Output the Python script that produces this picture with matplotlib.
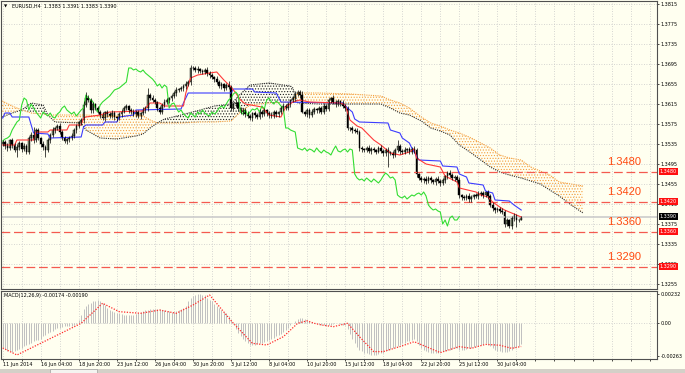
import numpy as np
import matplotlib
matplotlib.use('Agg')
import matplotlib.pyplot as plt
from matplotlib.patches import Rectangle

plt.rcParams['hatch.linewidth'] = 0.5

# ---- price data (EURUSD H4), one entry per bar ----
firstOpen = 1.3535
closes = [
    1.3539, 1.3531, 1.3527, 1.3543, 1.3533, 1.3523, 1.3529, 1.3537, 1.3525, 1.3531, 1.3519,
    1.3547, 1.3553, 1.3543, 1.3563, 1.3547, 1.3535, 1.3529, 1.3523,
    1.3543, 1.3553, 1.3563, 1.3567, 1.3571, 1.3559, 1.3547, 1.3541,
    1.3545, 1.3547, 1.3551, 1.3563, 1.3571, 1.3579, 1.3583,
    1.3613, 1.3627, 1.3623, 1.3603, 1.3615, 1.3607, 1.3599,
    1.3593, 1.3587, 1.3599, 1.3595, 1.3591, 1.3597, 1.3589,
    1.3587, 1.3595, 1.3599, 1.3607, 1.3611, 1.3603, 1.3599,
    1.3595, 1.3599, 1.3591, 1.3597, 1.3603, 1.3607,
    1.3633, 1.3627, 1.3623, 1.3619, 1.3607, 1.3599,
    1.3613, 1.3619, 1.3623, 1.3627,
    1.3631, 1.3637, 1.3643, 1.3645, 1.3647,
    1.3651, 1.3655, 1.3659, 1.3687,
    1.3687, 1.3683, 1.3685, 1.3681, 1.3679, 1.3683, 1.3677,
    1.3673, 1.3669, 1.3665,
    1.3659, 1.3651, 1.3655, 1.3647, 1.3653, 1.3649,
    1.3607,
    1.3615, 1.3617, 1.3607, 1.3599, 1.3603,
    1.3595, 1.3591, 1.3587, 1.3597, 1.3593, 1.3589, 1.3599, 1.3595, 1.3603,
    1.3597, 1.3593, 1.3591, 1.3599,
    1.3595, 1.3599, 1.3607, 1.3611,
    1.3607, 1.3615, 1.3623, 1.3627,
    1.3635, 1.3639, 1.3633,
    1.3599,
    1.3595, 1.3603, 1.3593, 1.3599, 1.3605,
    1.3603, 1.3607, 1.3599, 1.3611, 1.3605,
    1.3623, 1.3627,
    1.3619, 1.3615, 1.3621, 1.3617,
    1.3611, 1.3607,
    1.3567,
    1.3567, 1.3563, 1.3561, 1.3559,
    1.3527,
    1.3525, 1.3523, 1.3527, 1.3521, 1.3525,
    1.3523, 1.3519, 1.3527, 1.3521, 1.3517, 1.3523,
    1.3519,
    1.3517, 1.3513, 1.3523, 1.3531,
    1.3521, 1.3519, 1.3523, 1.3525, 1.3519,
    1.3525, 1.3523,
    1.3475,
    1.3467, 1.3463, 1.3465, 1.3461, 1.3467, 1.3463, 1.3459, 1.3465, 1.3461, 1.3457,
    1.3463, 1.3471, 1.3477, 1.3473, 1.3467, 1.3469, 1.3463,
    1.3433, 1.3429,
    1.3427, 1.3431, 1.3425, 1.3429, 1.3433, 1.3431,
    1.3435, 1.3437, 1.3433, 1.3439, 1.3431,
    1.3413, 1.3407, 1.3403, 1.3405,
    1.3401, 1.3399,
    1.3375, 1.3383, 1.3371,
    1.3387, 1.3391, 1.3383, 1.3383, 1.3390,
]

# wick extents beyond the body, in pips
upWick = [
    5, 4, 6, 3, 5, 4, 7, 5, 3, 6, 4, 5, 6, 16, 4, 5, 3, 6, 4, 5,
    4, 6, 3, 5, 7, 4, 5, 3, 4, 6, 5, 4, 3, 5, 8, 12, 6, 4, 5, 3,
    5, 4, 6, 3, 5, 4, 6, 5, 3, 4, 6, 5, 4, 3, 5, 6, 4, 5, 3, 6,
    5, 14, 4, 6, 5, 3, 4, 5, 6, 4, 3, 5, 4, 6, 3, 5, 4, 6, 5, 6,
    4, 5, 6, 3, 4, 5, 6, 4, 5, 3, 6, 4, 5, 3, 4, 8, 5, 4, 6, 5,
    3, 5, 4, 6, 5, 3, 4, 5, 6, 4, 5, 3, 4, 6, 5, 4, 3, 5, 6, 4,
    5, 3, 4, 6, 5, 4, 8, 3, 5, 4, 6, 5, 3, 4, 5, 6, 4, 5, 3, 6,
    4, 5, 3, 6, 4, 5, 3, 5, 4, 6, 5, 4, 3, 5, 6, 4, 5, 3, 4, 6,
    5, 4, 6, 3, 5, 4, 12, 5, 4, 6, 3, 5, 4, 6, 5, 3, 4, 5, 6, 4,
    5, 3, 4, 6, 5, 4, 3, 5, 6, 4, 5, 4, 6, 3, 5, 4, 6, 5, 3, 4,
    6, 5, 4, 3, 5, 4, 6, 3, 5, 4, 6, 5, 4, 3, 5, 6, 4, 3, 1,
]
dnWick = [
    4, 6, 5, 3, 5, 4, 14, 5, 6, 3, 5, 4, 6, 5, 3, 4, 5, 6, 14, 4,
    5, 3, 6, 4, 5, 3, 4, 6, 5, 4, 3, 5, 4, 6, 5, 3, 4, 6, 5, 4,
    3, 5, 4, 6, 5, 4, 3, 5, 6, 4, 5, 3, 4, 6, 5, 4, 6, 3, 5, 4,
    6, 5, 4, 3, 5, 6, 4, 5, 3, 4, 6, 5, 4, 5, 3, 4, 6, 5, 4, 5,
    3, 4, 6, 5, 4, 3, 5, 6, 4, 5, 3, 4, 6, 5, 4, 3, 5, 4, 6, 5,
    4, 6, 5, 3, 4, 5, 6, 4, 3, 5, 4, 6, 5, 3, 4, 5, 6, 4, 5, 3,
    4, 5, 3, 6, 4, 5, 3, 4, 6, 5, 3, 4, 5, 6, 4, 5, 3, 4, 6, 5,
    5, 4, 6, 3, 5, 4, 6, 5, 3, 4, 6, 5, 4, 3, 5, 6, 4, 5, 3, 4,
    5, 6, 30, 4, 5, 3, 4, 6, 5, 4, 3, 5, 4, 6, 5, 3, 4, 5, 6, 4,
    5, 4, 6, 3, 5, 4, 5, 6, 3, 4, 5, 4, 6, 5, 3, 4, 5, 6, 4, 3,
    5, 4, 6, 3, 5, 4, 5, 6, 3, 4, 5, 6, 4, 4, 5, 6, 14, 4, 0,
]

# ---- Ichimoku lines (bar index, price in pips above 1.3000) ----
tenkanBars = [0, 5, 6, 13, 14, 19, 20, 27, 28, 33, 34, 35, 41, 45, 59, 62, 66, 68, 76, 77,
              79, 82, 87, 90, 93, 96, 98, 100, 102, 109, 112, 117, 119, 122, 125, 129, 142, 144, 146, 149,
              151, 156, 159, 163, 167, 171, 173, 174, 178, 184, 186, 191, 192, 199, 201, 204, 206, 209, 211, 214,
              218]
tenkanPips = [533, 533, 543, 543, 559, 559, 563, 563, 573, 573, 587, 589, 593, 599, 601, 617, 617, 611, 611, 637,
              667, 673, 677, 679, 663, 649, 637, 623, 615, 609, 593, 589, 609, 619, 623, 619, 617, 613, 583, 571,
              567, 543, 533, 517, 513, 519, 525, 507, 495, 489, 471, 459, 447, 439, 433, 429, 419, 409, 403, 397,
              389]
kijunBars = [0, 1, 3, 4, 11, 13, 19, 20, 33, 34, 35, 42, 43, 48, 49, 55, 56, 75, 76, 78,
             96, 97, 105, 106, 115, 117, 143, 145, 147, 148, 150, 162, 163, 167, 168, 171, 172, 174, 175, 184,
             185, 191, 192, 195, 196, 202, 203, 206, 207, 213, 215, 218]
kijunPips = [587, 597, 597, 589, 589, 557, 555, 547, 549, 569, 573, 573, 579, 579, 589, 593, 603, 605, 617, 637,
             637, 645, 645, 639, 637, 619, 617, 607, 599, 585, 579, 577, 563, 557, 547, 537, 527, 511, 503, 501,
             491, 489, 475, 469, 457, 453, 441, 437, 423, 421, 413, 403]
spanBars = [-1, 4, 8, 12, 17, 19, 22, 33, 35, 41, 48, 56, 59, 62, 65, 68, 75, 83, 89, 96,
            100, 104, 112, 121, 122, 124, 133, 146, 159, 163, 167, 171, 176, 180, 184, 188, 192, 197, 201, 205,
            209, 213, 218, 222, 226, 230, 234, 239, 244]
spanAPips = [587, 597, 603, 617, 613, 593, 579, 577, 563, 547, 545, 551, 555, 567, 577, 585, 593, 603, 611, 615,
             635, 653, 657, 651, 647, 617, 615, 615, 615, 607, 597, 593, 581, 567, 561, 553, 533, 517, 503, 489,
             479, 473, 467, 461, 455, 443, 431, 413, 397]
spanBPips = [623, 611, 603, 597, 595, 593, 593, 593, 593, 591, 591, 593, 591, 583, 577, 577, 577, 579, 579, 581,
             599, 613, 617, 619, 619, 637, 637, 635, 631, 623, 617, 607, 589, 577, 571, 563, 557, 547, 537, 527,
             513, 507, 503, 489, 481, 473, 459, 455, 451]

# ---- MACD (12,26,9), values in units of 1e-5 ----
macdMain = [
    -195, -210, -225, -230, -232, -228,
    -220, -210, -200, -190, -180, -170,
    -160, -150, -140, -135, -130,
    -110, -95, -85, -75, -65,
    -50, -45, -40, -35, -30, -30, -25, -25, -20, -10,
    20, 60, 110, 130, 150,
    160, 170, 175, 180, 175,
    160, 140, 120, 100,
    90, 85, 80, 75, 70, 65, 62, 60, 62, 65, 70, 75, 85,
    95, 100, 105, 108, 110, 112, 110, 108, 105, 100, 95,
    90, 85, 88, 92, 100, 110, 120, 130,
    170, 200, 215, 225, 230, 228, 225, 220,
    200, 185, 170, 150, 130, 115, 100, 85, 75,
    50, 20, -10,
    -50, -85, -110, -130, -150, -165, -175,
    -178, -175, -170, -165, -160, -155,
    -150, -140, -130, -120, -110, -100, -90, -75,
    -60, -40, -20, 0, 15, 30, 40, 37,
    30, 20, 10, 5, 0, -5,
    -10, -15, -20, -25, -20, -15, -10, -5, -5, -10, -15, -20,
    -50, -90, -130, -165, -195, -215, -230,
    -240, -245, -250, -255, -258, -255, -250, -245, -240,
    -230, -220, -210, -205, -195, -185, -175, -165, -160, -150, -145,
    -140, -130, -150,
    -180, -200, -215, -225, -235, -240, -245, -243, -240, -235,
    -230, -225, -220, -215, -210, -205, -200,
    -215, -220, -215, -210, -205, -200, -195, -190, -185, -175, -170, -165,
    -175, -190, -205, -215, -225, -230, -232, -235, -233, -225,
    -215, -205, -195, -185, -174,
]
signalBars = [-1, 6, 33, 42, 49, 58, 66, 73, 80, 87, 97, 105, 111, 118, 124, 128, 131, 134, 139, 145,
              150, 156, 160, 167, 173, 178, 184, 192, 197, 203, 209, 214, 218]
signalVals = [-192, -258, -5, 155, 88, 75, 101, 75, 141, 221, -5, -165, -178, -112, -5, 15, -5, -18, -32, -5,
              -112, -231, -231, -191, -152, -191, -239, -191, -205, -173, -180, -205, -190]

levels = [1.3480, 1.3420, 1.3360, 1.3290]
lastPrice = 1.3390
dateLabels = ["11 Jun 2014", "16 Jun 04:00", "18 Jun 20:00", "23 Jun 12:00", "26 Jun 04:00",
              "30 Jun 20:00", "3 Jul 12:00", "8 Jul 04:00", "10 Jul 20:00", "15 Jul 12:00",
              "18 Jul 04:00", "22 Jul 20:00", "25 Jul 12:00", "30 Jul 04:00"]

assert len(closes) == len(upWick) == len(dnWick) == len(macdMain)

BG = '#FFFFF0'
GRID = '#C8C8C8'
SMALL = 3.5


def pips(values):
    return 1.3 + np.array(values) / 10000.0


def main():
    n = len(closes)
    bars = np.arange(n)
    c = np.array(closes)
    o = np.concatenate([[firstOpen], c[:-1]])
    hi = np.maximum(o, c) + np.array(upWick) / 10000.0
    lo = np.minimum(o, c) - np.array(dnWick) / 10000.0

    fig = plt.figure(figsize=(6.85, 3.73), dpi=100, facecolor=BG)
    axMain = fig.add_axes([1 / 685, 1 - 289 / 373, 656 / 685, 288 / 373], facecolor=BG)
    axMacd = fig.add_axes([1 / 685, 1 - 359 / 373, 656 / 685, 68 / 373], facecolor=BG)

    gridBars = np.arange(0, 276, 8)
    for ax in (axMain, axMacd):
        ax.set_xlim(-0.7, 275.1)
        ax.set_xticks(gridBars)
        ax.grid(True, axis='x', color=GRID, linestyle=(0, (1, 2)), linewidth=0.6)
        for s in ax.spines.values():
            s.set_color('#505050')
            s.set_linewidth(0.8)
        ax.yaxis.tick_right()
        ax.tick_params(axis='y', labelsize=SMALL, length=1.5, pad=1, width=0.5)
        ax.set_axisbelow(True)

    # main price panel
    axMain.set_ylim(1.3245, 1.3821)
    priceTicks = np.arange(1.3255, 1.3816, 0.0040)
    axMain.set_yticks(priceTicks)
    axMain.set_yticklabels(['%.4f' % p for p in priceTicks])
    axMain.grid(True, axis='y', color=GRID, linestyle=(0, (1, 2)), linewidth=0.6)
    axMain.tick_params(axis='x', length=0, labelbottom=False)

    # Ichimoku cloud
    sa = pips(spanAPips)
    sb = pips(spanBPips)
    axMain.fill_between(spanBars, sa, sb, where=sb >= sa, interpolate=True,
                        facecolor='none', edgecolor='#F5A040', hatch='......', linewidth=0)
    axMain.fill_between(spanBars, sa, sb, where=sa > sb, interpolate=True,
                        facecolor='none', edgecolor='#202020', hatch='......', linewidth=0)
    axMain.plot(spanBars, sb, color='#F5A040', linestyle=(0, (1, 1)), linewidth=0.8)
    axMain.plot(spanBars, sa, color='#303030', linestyle=(0, (1, 1)), linewidth=0.8)

    # level lines
    axMain.axhline(lastPrice, color='#C8C8C8', linewidth=1.1)
    for lv in levels:
        axMain.axhline(lv, color='#F45A50', linestyle=(0, (7, 3)), linewidth=0.9)
        axMain.annotate('%.4f' % lv, xy=(254, lv), xytext=(0, 7), textcoords='offset points',
                        color='#FF4A10', fontsize=8, family='Liberation Sans', va='center', ha='left')

    # lines
    axMain.plot(kijunBars, pips(kijunPips), color='#3C3CFF', linewidth=0.8)
    axMain.plot(tenkanBars, pips(tenkanPips), color='#FF3A3A', linewidth=0.8)
    axMain.plot(bars[:-26], c[26:], color='#33DD33', linewidth=0.8)

    # candles
    axMain.vlines(bars, lo, hi, color='black', linewidth=0.5)
    up = c >= o
    axMain.bar(bars[up], (c - o)[up], bottom=o[up], width=0.75, color='#7D8B6E',
               edgecolor='black', linewidth=0.3)
    axMain.bar(bars[~up], (c - o)[~up], bottom=o[~up], width=0.75, color='black',
               edgecolor='black', linewidth=0.3)

    # right-side price boxes (they cover the axis labels just beneath them)
    yTrans = axMain.get_yaxis_transform()
    for lv in levels:
        axMain.text(1.004, lv, '%.4f' % lv, transform=yTrans, fontsize=SMALL, color='white',
                    va='center', ha='left', clip_on=False, zorder=10,
                    bbox=dict(boxstyle='square,pad=0.2', fc='#FF1010', ec='none'))
    axMain.text(1.004, lastPrice, '%.4f' % lastPrice, transform=yTrans, fontsize=SMALL, color='white',
                va='center', ha='left', clip_on=False, zorder=10,
                bbox=dict(boxstyle='square,pad=0.2', fc='black', ec='none'))

    axMain.text(0.004, 1 - 5.5 / 288, '\u25bc', transform=axMain.transAxes, fontsize=3,
                va='center', ha='left')
    axMain.text(0.017, 1 - 5.5 / 288, 'EURUSD,H4  1.3383 1.3391 1.3383 1.3390',
                transform=axMain.transAxes, fontsize=SMALL, va='center', ha='left')

    # MACD panel
    axMacd.set_ylim(-290, 253)
    axMacd.set_yticks([232, 0, -263])
    axMacd.set_yticklabels(['0.00232', '0.00', '-0.00263'])
    axMacd.axhline(0, color=GRID, linestyle=(0, (1, 2)), linewidth=0.6)
    axMacd.vlines(bars, 0, macdMain, color='#C0C0C0', linewidth=0.7)
    axMacd.plot(signalBars, signalVals, color='#FF2A2A', linestyle=(0, (1, 1.2)), linewidth=0.9)
    axMacd.text(0.004, 1 - 4.5 / 68, 'MACD(12,26,9) -0.00174 -0.00190', transform=axMacd.transAxes,
                fontsize=SMALL, va='center', ha='left')

    xLabels = []
    for b in gridBars:
        if b % 16 == 0 and b // 16 < len(dateLabels):
            xLabels.append(dateLabels[b // 16])
        else:
            xLabels.append('')
    axMacd.set_xticklabels(xLabels)
    axMacd.tick_params(axis='x', labelsize=SMALL, length=1.5, pad=1, width=0.5)
    for lab in axMacd.get_xticklabels():
        lab.set_ha('left')

    # terminal tab strip at the bottom
    fig.patches.append(Rectangle((0, 0), 1, 4 / 373, transform=fig.transFigure,
                                 facecolor='#D4D0C8', edgecolor='none'))
    fig.patches.append(Rectangle((50 / 685, 0), 47 / 685, 4 / 373, transform=fig.transFigure,
                                 facecolor='#F4F4F0', edgecolor='#909090', linewidth=0.4))

    fig.savefig('out.png', dpi=100, facecolor=BG)


if __name__ == "__main__":
    main()
